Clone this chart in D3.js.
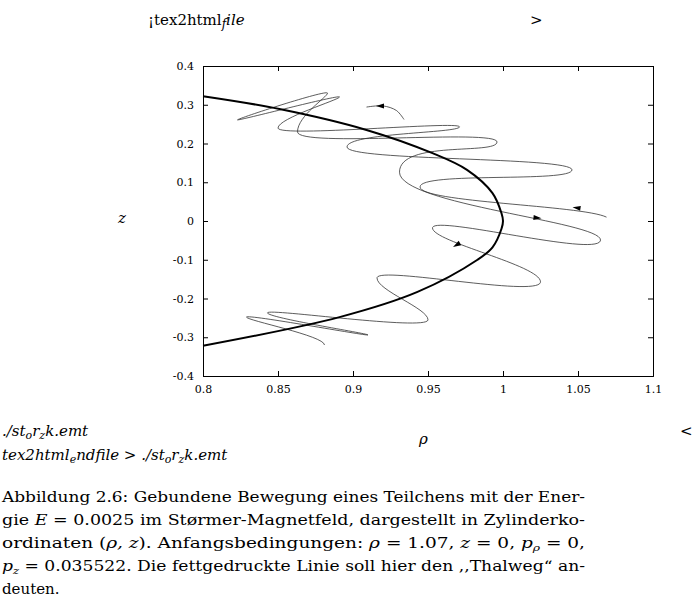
<!DOCTYPE html>
<html><head><meta charset="utf-8">
<script src="https://cdn.jsdelivr.net/npm/d3@7"></script>
<style>body{margin:0;background:#fff}</style>
</head><body><svg id="c" width="695" height="603"></svg>
<script>
const xTicks=[0.8,0.85,0.9,0.95,1,1.05,1.1];
const xTickLabels=["0.8","0.85","0.9","0.95","1","1.05","1.1"];
const yTicks=[0.4,0.3,0.2,0.1,0,-0.1,-0.2,-0.3,-0.4];
const yTickLabels=["0.4","0.3","0.2","0.1","0","-0.1","-0.2","-0.3","-0.4"];
const thalwegRho=[0.80,0.851,0.909,0.953,0.976,0.993,0.999,1.0,0.999,0.993,0.983,0.943,0.891,0.80];
const thalwegZ=[0.322,0.289,0.235,0.175,0.132,0.072,0.02,0,-0.02,-0.068,-0.10,-0.183,-0.248,-0.322];
const orbitRho=[1.069,0.9447,1.046,0.896,0.971,0.850,0.891,0.823,0.883,0.863,0.996,0.931,1.065,0.953,1.025,0.916,0.950,0.843,0.910,0.829,0.881];
const orbitZ=[0.010,0.088,0.132,0.191,0.243,0.240,0.320,0.261,0.330,0.230,0.204,0.126,-0.049,-0.018,-0.157,-0.147,-0.255,-0.237,-0.294,-0.248,-0.320];
const tailRho=[0.934,0.929,0.920,0.909];
const tailZ=[0.262,0.285,0.297,0.294];
const arrowRho=[0.918,1.049,1.023,0.969];
const arrowZ=[0.297,0.034,0.008,-0.062];
const arrowAngle=[180,172,-5,-150];

const ff="'DejaVu Serif',serif";
const svg=d3.select("#c").style("font-family",ff);
const x=d3.scaleLinear().domain([0.8,1.1]).range([203,653]);
const y=d3.scaleLinear().domain([-0.4,0.4]).range([376,66]);
const g=svg.append("g");
g.append("g").attr("transform","translate(0,376)").call(d3.axisBottom(x).tickValues(xTicks).tickSize(-5).tickPadding(9).tickFormat((d,i)=>xTickLabels[i]));
g.append("g").attr("transform","translate(0,66)").call(d3.axisTop(x).tickValues(xTicks).tickSize(-5).tickFormat(""));
g.append("g").attr("transform","translate(203,0)").call(d3.axisLeft(y).tickValues(yTicks).tickSize(-5).tickPadding(9).tickFormat((d,i)=>yTickLabels[i]));
g.append("g").attr("transform","translate(653,0)").call(d3.axisRight(y).tickValues(yTicks).tickSize(-5).tickFormat(""));
g.selectAll("g").attr("font-family",null);
g.selectAll(".domain").attr("stroke","#000");
g.selectAll(".tick line").attr("stroke","#000");
g.selectAll(".tick text").attr("font-size",11).style("font-family",ff).attr("fill","#000");

const pts=orbitRho.map((r,i)=>[x(r),y(orbitZ[i])]);
const tan=pts.map((T,i)=>{
  if(i===0) return [-25,-12];
  const P=pts[i-1],N=pts[Math.min(i+1,pts.length-1)];
  return [0,(N[1]-P[1])*0.33];
});
const p=d3.path();p.moveTo(pts[0][0],pts[0][1]);
for(let i=0;i<pts.length-1;i++){
  const A=pts[i],B=pts[i+1];
  p.bezierCurveTo(A[0]+tan[i][0],A[1]+tan[i][1],B[0]-tan[i+1][0],B[1]-tan[i+1][1],B[0],B[1]);
}
g.append("path").attr("d",p.toString()).attr("fill","none").attr("stroke","#333").attr("stroke-width",0.8);
const line=d3.line().x(d=>x(d[0])).y(d=>y(d[1])).curve(d3.curveCatmullRom.alpha(0.5));
g.append("path").datum(tailRho.map((r,i)=>[r,tailZ[i]])).attr("d",line).attr("fill","none").attr("stroke","#333").attr("stroke-width",0.8);
g.append("path").datum(thalwegRho.map((r,i)=>[r,thalwegZ[i]])).attr("d",line).attr("fill","none").attr("stroke","#000").attr("stroke-width",2);
arrowRho.forEach((r,i)=>{
  g.append("path").attr("d","M4,0 L-4,-2.5 L-4,2.5 Z").attr("fill","#000")
   .attr("transform",`translate(${x(r)},${y(arrowZ[i])}) rotate(${-arrowAngle[i]})`);
});

const T=(t,xx,yy,sz,st)=>svg.append("text").attr("x",xx).attr("y",yy).attr("font-size",sz||15).attr("font-style",st||"normal").text(t);
svg.append("text").attr("x",148).attr("y",25).attr("font-size",15).html('¡tex2html<tspan font-style="italic" baseline-shift="-3" font-size="12">f</tspan><tspan font-style="italic">ile</tspan>');
T(">",530,25);
T("z",118,223,15,"italic");
T("ρ",419,444,15,"italic");
svg.append("text").attr("x",2).attr("y",436).attr("font-size",15).attr("font-style","italic").html('./st<tspan baseline-shift="-3" font-size="11">o</tspan>r<tspan baseline-shift="-3" font-size="11">z</tspan>k.emt');
svg.append("text").attr("x",2).attr("y",460).attr("font-size",15).attr("font-style","italic").html('tex2html<tspan baseline-shift="-3" font-size="11">e</tspan>ndfile &gt; ./st<tspan baseline-shift="-3" font-size="11">o</tspan>r<tspan baseline-shift="-3" font-size="11">z</tspan>k.emt');
T("<",680,436);
const cap=[
 'Abbildung 2.6: Gebundene Bewegung eines Teilchens mit der Ener-',
 'gie <tspan font-style="italic">E</tspan> = 0.0025 im Størmer-Magnetfeld, dargestellt in Zylinderko-',
 'ordinaten (<tspan font-style="italic">ρ, z</tspan>). Anfangsbedingungen: <tspan font-style="italic">ρ</tspan> = 1.07, <tspan font-style="italic">z</tspan> = 0, <tspan font-style="italic">p<tspan baseline-shift="-3" font-size="10">ρ</tspan></tspan> = 0,',
 '<tspan font-style="italic">p<tspan baseline-shift="-3" font-size="10">z</tspan></tspan> = 0.035522. Die fettgedruckte Linie soll hier den ,,Thalweg“ an-',
 'deuten.'];
cap.forEach((c,i)=>{
  const t=svg.append("text").attr("x",2).attr("y",502+i*23).attr("font-size",15).html(c);
  if(i<4){t.attr("textLength",583).attr("lengthAdjust","spacingAndGlyphs");}
});
</script></body></html>
